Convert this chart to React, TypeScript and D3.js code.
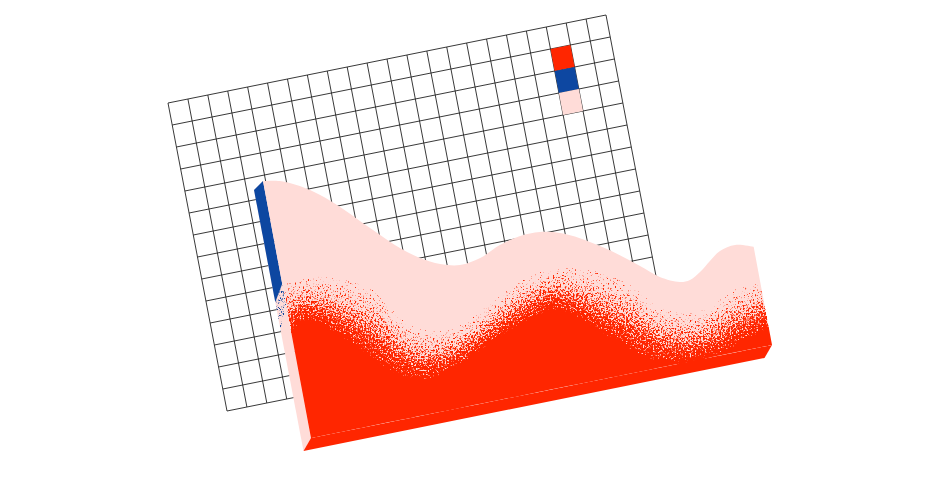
import { useEffect, useRef } from "react";
import * as d3 from "d3";

// sheet behind the chart
const gridCols = d3.range(0, 23);
const gridRows = d3.range(0, 15);
const legendCol = 19;
const legendRows = [1, 2, 3];
const legendColors = ["#ff2600", "#0d47a1", "#ffdcd8"];

// outline of the pink hump, percent along the base / percent of the height
const outlinePos = [0, 3.5, 7.5, 11.4, 15.1, 18.7, 22.4, 26, 29.8, 33.8, 37.9, 42.4, 47, 51.6, 55.9, 60.1, 64, 67.9, 71.7, 75.5, 79.2, 83.2, 85.4, 87.8, 90.3, 92.8, 96.2, 100];
const outlineVal = [100, 98.7, 95.3, 90.4, 84.4, 77.7, 70.9, 64.5, 59.3, 55.5, 53.6, 54.7, 58.1, 59.9, 59.9, 58, 54.6, 50.1, 45.2, 39.6, 34, 30.6, 30.6, 32.8, 36.2, 39.2, 40.3, 38.2];

// red cloud: where it is solid and where the last dots stop
const cloudPos = [0, 4.1, 11.9, 19.5, 21.9, 26.5, 32.6, 38.6, 45.8, 50.5, 56.6, 67.5, 73.2, 78.1, 85.6, 94, 100];
const cloudSolid = [41, 44, 33, 19, 16, 13.5, 15.5, 20, 25.5, 28, 29.4, 13.5, 5, 1.5, 0.5, 3.3, 7];
const cloudTop = [60, 60.7, 58, 49.4, 42, 33.2, 30.2, 33.1, 39.8, 43.2, 45.3, 39.8, 32.3, 22.7, 18, 23.6, 24.3];

// how thick the dots are from the solid edge up to the last dots
const bandEdges = [-0.05, 0.08, 0.16, 0.24, 0.32, 0.4, 0.5, 0.6, 0.72, 0.86, 1];
const bandDensity = [1, 0.92, 0.85, 0.78, 0.7, 0.62, 0.54, 0.46, 0.36, 0.25];

// blue on the side wall, depth percent / height percent
const sideDepth = [0, 100];
const sideBlueSolid = [60, 57];
const sideBlueEnd = [52, 46];

const RED = "#ff2600";
const BLUE = "#0d47a1";
const PINK = "#ffdcd8";

export default function App() {
  const ref = useRef<SVGSVGElement>(null);

  useEffect(() => {
    const svg = d3.select(ref.current);
    svg.selectAll("*").remove();

    const colScale = d3.scaleLinear().domain([0, 22]).range([0, 1]);
    const rowScale = d3.scaleLinear().domain([0, 14]).range([0, 1]);
    const gridPoint = (c: number, r: number): [number, number] => [
      168 + 438 * colScale(c) + 59 * rowScale(r),
      103 - 88 * colScale(c) + 308 * rowScale(r),
    ];

    const uScale = d3.scaleLinear().domain([0, 100]).range([0, 1]);
    const vScale = d3.scaleLinear().domain([0, 100]).range([0, 1]);
    const wScale = d3.scaleLinear().domain([0, 100]).range([0, 1]);
    const project = (u: number, v: number, w = 0): [number, number] => {
      const a = uScale(u), b = vScale(v), d = wScale(w);
      return [
        311 + 461 * a - 48 * b + d * (-7.5 - 1.5 * b),
        438 - 93 * a - 257 * b + d * (13 - 4 * b),
      ];
    };

    const defs = svg.append("defs");
    const makeDither = (id: string, color: string, gain: number, base: number, seed: number) => {
      const f = defs.append("filter").attr("id", id)
        .attr("filterUnits", "userSpaceOnUse")
        .attr("x", 0).attr("y", 0).attr("width", 940).attr("height", 501)
        .attr("color-interpolation-filters", "sRGB");
      f.append("feTurbulence").attr("type", "fractalNoise")
        .attr("baseFrequency", 0.6).attr("numOctaves", 2).attr("seed", seed).attr("result", "n");
      f.append("feColorMatrix").attr("in", "n").attr("type", "matrix")
        .attr("values", `0 0 0 0 1 0 0 0 0 1 0 0 0 0 1 0 0 0 ${gain} ${base}`).attr("result", "spread");
      f.append("feComposite").attr("in", "SourceAlpha").attr("in2", "spread")
        .attr("operator", "arithmetic")
        .attr("k1", 0).attr("k2", 1).attr("k3", 1).attr("k4", -1).attr("result", "sum");
      const ct = f.append("feComponentTransfer").attr("in", "sum").attr("result", "hard");
      ct.append("feFuncA").attr("type", "linear").attr("slope", 4).attr("intercept", 0);
      f.append("feFlood").attr("flood-color", color).attr("result", "ink");
      f.append("feComposite").attr("in", "ink").attr("in2", "hard").attr("operator", "in");
    };
    makeDither("dotsRed", RED, 1.7, -0.35, 4);
    makeDither("dotsBlue", BLUE, 1.7, -0.35, 9);

    // grid
    const grid = svg.append("g").attr("fill", "none").attr("stroke", "#222").attr("stroke-width", 0.9);
    const seg = d3.line();
    grid.selectAll(".v").data(gridCols).join("path").attr("class", "v")
      .attr("d", (c) => seg([gridPoint(c, 0), gridPoint(c, 14)]));
    grid.selectAll(".h").data(gridRows).join("path").attr("class", "h")
      .attr("d", (r) => seg([gridPoint(0, r), gridPoint(22, r)]));

    // legend cells
    svg.append("g").selectAll("path").data(legendRows).join("path")
      .attr("d", (r) => seg([
        gridPoint(legendCol, r), gridPoint(legendCol + 1, r),
        gridPoint(legendCol + 1, r + 1), gridPoint(legendCol, r + 1),
      ]) + "Z")
      .attr("fill", (_, i) => legendColors[i]);

    // side wall
    const quad = (pts: [number, number][]) => seg(pts) + "Z";
    svg.append("path")
      .attr("d", quad([project(0, 100), project(0, 0), project(0, 0, 100), project(0, 100, 100)]))
      .attr("fill", PINK);
    svg.append("path")
      .attr("d", quad([
        project(0, 100), project(0, sideBlueSolid[0]),
        project(0, sideBlueSolid[1], 100), project(0, 100, 100),
      ]))
      .attr("fill", BLUE);
    svg.append("path")
      .attr("d", quad([
        project(0, sideBlueSolid[0]), project(0, sideBlueEnd[0], sideDepth[0]),
        project(0, sideBlueEnd[1], sideDepth[1]), project(0, sideBlueSolid[1], sideDepth[1]),
      ]))
      .attr("fill", "#000").attr("fill-opacity", 0.42)
      .attr("filter", "url(#dotsBlue)");

    // floor
    svg.append("path")
      .attr("d", quad([project(0, 0), project(100, 0), project(100, 0, 100), project(0, 0, 100)]))
      .attr("fill", RED);

    // front face
    const frontArea = d3.area<number>()
      .x0((_, i) => project(outlinePos[i], 0)[0])
      .y0((_, i) => project(outlinePos[i], 0)[1])
      .x1((_, i) => project(outlinePos[i], outlineVal[i])[0])
      .y1((_, i) => project(outlinePos[i], outlineVal[i])[1])
      .curve(d3.curveCatmullRom);
    svg.append("path").attr("d", frontArea(outlinePos)).attr("fill", PINK);

    // solid part first, the dots overlap its edge
    const solidArea = d3.area<number>()
      .x0((_, i) => project(cloudPos[i], 0)[0])
      .y0((_, i) => project(cloudPos[i], 0)[1])
      .x1((_, i) => project(cloudPos[i], cloudSolid[i])[0])
      .y1((_, i) => project(cloudPos[i], cloudSolid[i])[1])
      .curve(d3.curveCatmullRom);
    svg.append("path").attr("d", solidArea(cloudPos)).attr("fill", RED);

    // cloud of dots
    const levelAt = (i: number, f: number) =>
      Math.max(0, cloudSolid[i] + f * (cloudTop[i] - cloudSolid[i]));
    const bandArea = (f0: number, f1: number) =>
      d3.area<number>()
        .x0((_, i) => project(cloudPos[i], levelAt(i, f0))[0])
        .y0((_, i) => project(cloudPos[i], levelAt(i, f0))[1])
        .x1((_, i) => project(cloudPos[i], levelAt(i, f1))[0])
        .y1((_, i) => project(cloudPos[i], levelAt(i, f1))[1])
        .curve(d3.curveCatmullRom)(cloudPos);

    const dots = svg.append("g").attr("filter", "url(#dotsRed)");
    dots.selectAll("path").data(bandDensity).join("path")
      .attr("d", (_, i) => bandArea(bandEdges[i], bandEdges[i + 1]))
      .attr("fill", "#000")
      .attr("fill-opacity", (d) => d);
  }, []);

  return (
    <svg
      ref={ref}
      width={940}
      height={501}
      style={{ position: "absolute", left: 0, top: 0, background: "#fff" }}
    />
  );
}
